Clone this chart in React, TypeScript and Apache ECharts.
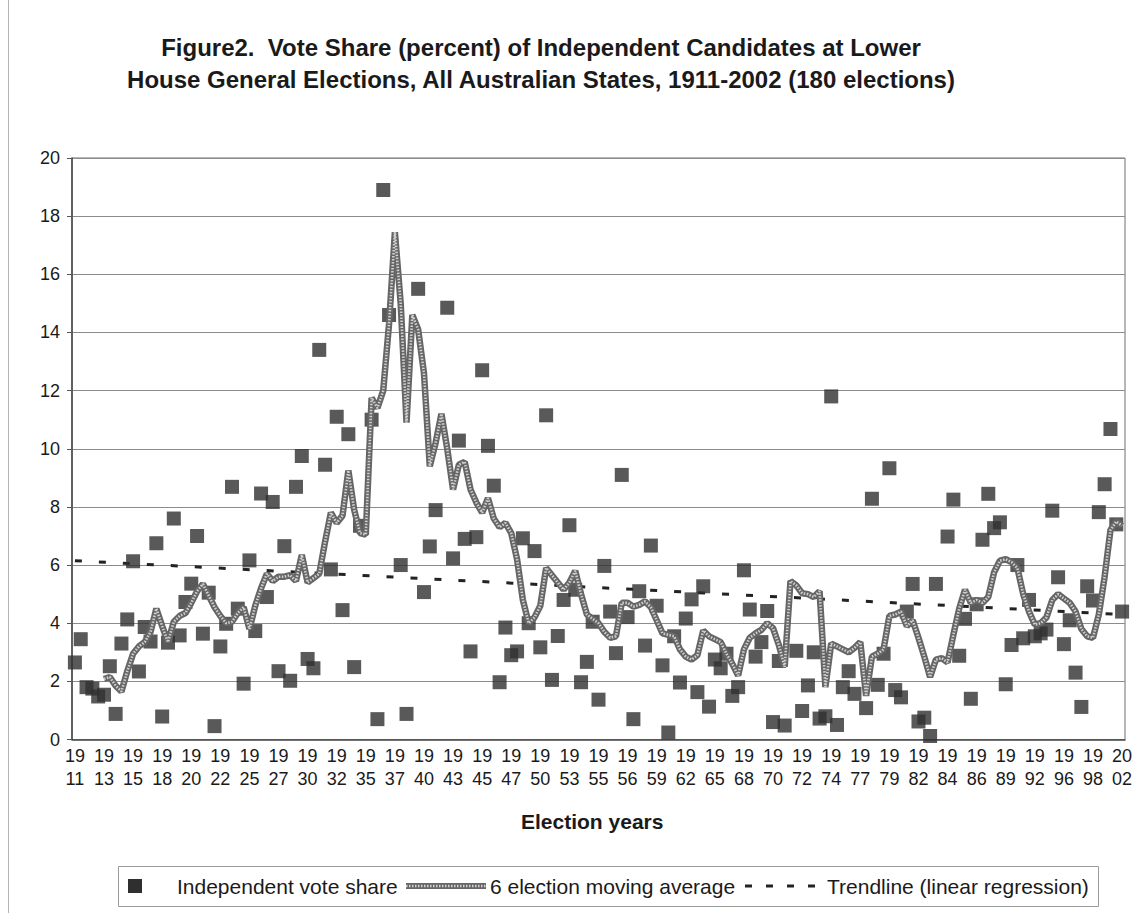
import React, { useEffect, useRef } from "react";
import * as echarts from "echarts";

// Tick labels (every 5th election)
const tickYears = [
  1911, 1913, 1915, 1918, 1920, 1922, 1925, 1927, 1930, 1932, 1935, 1937, 1940,
  1943, 1945, 1947, 1950, 1953, 1955, 1956, 1959, 1962, 1965, 1968, 1970, 1972,
  1974, 1977, 1979, 1982, 1984, 1986, 1989, 1992, 1996, 1998, 2002,
];

// Independent vote share per election (null = hidden under the moving average)
const voteShare: (number | null)[] = [
  2.65, 3.45, 1.8, 1.75, 1.48, 1.54, 2.52, 0.88, 3.3, 4.13,
  6.13, 2.34, 3.87, 3.37, 6.75, 0.79, 3.33, 7.6, 3.58, 4.73,
  5.36, 7.0, 3.64, 5.05, 0.46, 3.2, 3.98, 8.69, 4.5, 1.92,
  6.16, 3.73, 8.46, 4.9, 8.17, 2.35, 6.65, 2.02, 8.69, 9.75,
  2.77, 2.45, 13.4, 9.45, 5.85, 11.1, 4.45, 10.5, 2.49, 7.35,
  null, 11.0, 0.7, 18.9, 14.6, null, 6.0, 0.88, null, 15.5,
  5.07, 6.64, 7.89, null, 14.85, 6.23, 10.28, 6.9, 3.03, 6.96,
  12.7, 10.1, 8.73, 1.97, 3.85, 2.9, 3.03, 6.92, 4.0, 6.48,
  3.17, 11.15, 2.05, 3.56, 4.8, 7.37, 5.15, 1.97, 2.67, 4.05,
  1.37, 5.97, 4.4, 2.97, 9.1, 4.21, 0.7, 5.1, 3.23, 6.67,
  4.6, 2.55, 0.24, 3.55, 1.96, 4.16, 4.82, 1.63, 5.27, 1.13,
  2.75, 2.45, 2.95, 1.5, 1.8, 5.82, 4.47, 2.85, 3.35, 4.42,
  0.6, 2.7, 0.48, null, 3.05, 0.98, 1.86, 3.0, 0.72, 0.8,
  11.8, 0.5, 1.8, 2.35, 1.57, null, 1.08, 8.28, 1.88, 2.95,
  9.33, 1.7, 1.45, 4.4, 5.35, 0.62, 0.75, 0.12, 5.35, null,
  6.98, 8.25, 2.88, 4.15, 1.4, 4.65, 6.87, 8.45, 7.27, 7.47,
  1.9, 3.25, 6.0, 3.48, 4.8, 3.55, 3.65, 3.78, 7.87, 5.58,
  3.28, 4.1, 2.3, 1.12, 5.27, 4.78, 7.82, 8.78, 10.68, 7.4,
  4.4,
];

// 6 election moving average, as drawn
const movingAverage: (number | null)[] = [
  null, null, null, null, null, 2.08, 2.15, 1.85, 1.65, 2.35,
  2.95, 3.2, 3.35, 3.7, 4.5, 3.9, 3.35, 4.05, 4.25, 4.35,
  4.7, 5.1, 5.35, 4.95, 4.55, 4.25, 4.0, 4.05, 4.35, 4.55,
  3.8, 4.6, 5.2, 5.7, 5.45, 5.6, 5.6, 5.65, 5.45, 6.35,
  5.4, 5.55, 5.7, 6.8, 7.8, 7.45, 7.7, 9.25, 7.9, 7.1,
  7.05, 11.75, 11.4, 12.0, 14.3, 17.45, 15.0, 10.9, 14.6, 14.1,
  12.6, 9.4, 10.2, 11.2, 10.0, 8.6, 9.45, 9.55, 8.6, 8.15,
  7.8, 8.3, 7.6, 7.3, 7.45, 7.1, 6.2, 4.8, 4.0, 4.2,
  4.6, 5.9, 5.65, 5.4, 5.15, 5.4, 5.8, 5.0, 4.3, 4.15,
  4.0, 3.7, 3.5, 3.55, 4.7, 4.7, 4.57, 4.63, 4.75, 4.55,
  4.1, 3.65, 3.6, 3.55, 3.1, 2.85, 2.75, 2.9, 3.75, 3.55,
  3.45, 3.35, 2.95, 2.6, 2.2, 3.1, 3.5, 3.65, 3.77, 4.0,
  3.83, 3.25, 2.5, 5.45, 5.3, 5.03, 5.0, 4.9, 5.1, 1.8,
  3.3, 3.2, 3.1, 3.0, 3.15, 3.35, 1.5, 2.85, 2.95, 3.1,
  4.25, 4.3, 4.4, 3.9, 4.1, 3.5, 2.85, 2.15, 2.75, 2.8,
  2.65, 3.6, 4.5, 5.15, 4.7, 4.8, 4.7, 4.9, 5.75, 6.15,
  6.2, 6.1, 5.9, 5.0, 4.4, 3.95, 4.0, 4.2, 4.8, 5.0,
  4.85, 4.7, 4.4, 3.8, 3.55, 3.5, 4.3, 5.6, 7.2, 7.5,
  7.35,
];

// Linear regression trendline end values
const trendStart = 6.15;
const trendEnd = 4.3;

const seriesNames = [
  "Independent vote share",
  "6 election moving average",
  "Trendline (linear regression)",
];

const FONT = "'Liberation Sans', Arial, sans-serif";
const TEXT = "#1a1a1a";
const MA_OUTER = "#666666";
const MA_INNER = "#d0d0d0";

export default function App() {
  const ref = useRef<HTMLDivElement>(null);

  useEffect(() => {
    if (!ref.current) return;
    const chart = echarts.init(ref.current, null, { renderer: "svg" });
    const categories = voteShare.map((_, i) => String(i));
    const lastIdx = voteShare.length - 1;
    const legendY = 886;

    chart.setOption({
      animation: false,
      backgroundColor: "#ffffff",
      title: {
        text:
          "Figure2.  Vote Share (percent) of Independent Candidates at Lower\nHouse General Elections, All Australian States, 1911-2002 (180 elections)",
        left: 541,
        top: 31,
        padding: 0,
        textAlign: "center",
        textStyle: {
          fontFamily: FONT,
          fontSize: 24,
          fontWeight: "bold",
          color: TEXT,
          lineHeight: 32,
        },
      },
      grid: {
        left: 72,
        right: 15,
        top: 158,
        bottom: 173.5,
        show: true,
        borderColor: "#6f6f6f",
        borderWidth: 1,
        backgroundColor: "transparent",
      },
      xAxis: {
        type: "category",
        data: categories,
        boundaryGap: true,
        axisLine: { lineStyle: { color: "#444", width: 1.5 } },
        axisTick: { interval: 0, length: 5, lineStyle: { color: "#555" } },
        axisLabel: {
          interval: 4,
          margin: 5,
          fontFamily: FONT,
          fontSize: 18,
          lineHeight: 23,
          color: TEXT,
          formatter: (v: string) => {
            const i = Number(v);
            if (i % 5 !== 0) return "";
            const y = String(tickYears[i / 5]);
            return y.slice(0, 2) + "\n" + y.slice(2);
          },
        },
        splitLine: { show: false },
      },
      yAxis: {
        type: "value",
        min: 0,
        max: 20,
        interval: 2,
        axisLine: { show: true, lineStyle: { color: "#444", width: 1.5 } },
        axisTick: { show: true, length: 5, lineStyle: { color: "#555" } },
        axisLabel: {
          margin: 12,
          fontFamily: FONT,
          fontSize: 18,
          color: TEXT,
        },
        splitLine: { lineStyle: { color: "#8c8c8c", width: 1 } },
      },
      graphic: [
        // left frame edge of the chart area
        {
          type: "line",
          shape: { x1: 8.5, y1: 0, x2: 8.5, y2: 913 },
          style: { stroke: "#b5b5b5", lineWidth: 1 },
          silent: true,
        },
        // axis title
        {
          type: "text",
          left: 521,
          top: 811,
          style: {
            text: "Election years",
            font: `bold 21px ${FONT}`,
            fill: TEXT,
          },
          silent: true,
        },
        // legend box
        {
          type: "rect",
          shape: { x: 118.5, y: 866.5, width: 980, height: 40 },
          style: { fill: "#fff", stroke: "#9a9a9a", lineWidth: 1 },
          silent: true,
          z: 10,
        },
        {
          type: "rect",
          shape: { x: 128, y: legendY - 7, width: 14, height: 14 },
          style: { fill: "#2f2f2f" },
          silent: true,
          z: 11,
        },
        {
          type: "text",
          x: 177,
          y: legendY,
          style: {
            text: seriesNames[0],
            font: `21px ${FONT}`,
            fill: TEXT,
            verticalAlign: "middle",
          },
          silent: true,
          z: 11,
        },
        {
          type: "line",
          shape: { x1: 406, y1: legendY, x2: 486, y2: legendY },
          style: { stroke: MA_OUTER, lineWidth: 6 },
          silent: true,
          z: 11,
        },
        {
          type: "line",
          shape: { x1: 406, y1: legendY, x2: 486, y2: legendY },
          style: { stroke: MA_INNER, lineWidth: 2.6, lineDash: [1.5, 1.5] },
          silent: true,
          z: 12,
        },
        {
          type: "text",
          x: 490,
          y: legendY,
          style: {
            text: seriesNames[1],
            font: `21px ${FONT}`,
            fill: TEXT,
            verticalAlign: "middle",
          },
          silent: true,
          z: 11,
        },
        {
          type: "line",
          shape: { x1: 745, y1: legendY, x2: 823, y2: legendY },
          style: { stroke: "#222", lineWidth: 3, lineDash: [7, 14] },
          silent: true,
          z: 11,
        },
        {
          type: "text",
          x: 827,
          y: legendY,
          style: {
            text: seriesNames[2],
            font: `21px ${FONT}`,
            fill: TEXT,
            verticalAlign: "middle",
          },
          silent: true,
          z: 11,
        },
      ],
      series: [
        {
          name: seriesNames[2],
          type: "line",
          data: [
            [0, trendStart],
            [lastIdx, trendEnd],
          ],
          symbol: "none",
          lineStyle: { color: "#222", width: 3, type: [7, 17] },
          z: 1,
        },
        {
          name: seriesNames[0],
          type: "scatter",
          data: voteShare,
          symbol: "rect",
          symbolSize: 14,
          itemStyle: { color: "#2f2f2f" },
          z: 2,
        },
        {
          name: seriesNames[1],
          type: "line",
          data: movingAverage,
          symbol: "none",
          lineStyle: { color: MA_OUTER, width: 6.5 },
          z: 3,
        },
        {
          name: "ma-texture",
          type: "line",
          data: movingAverage,
          symbol: "none",
          silent: true,
          lineStyle: { color: MA_INNER, width: 2.6, type: [1.5, 1.5] },
          z: 4,
        },
      ],
    });

    return () => chart.dispose();
  }, []);

  return (
    <div
      ref={ref}
      style={{
        position: "fixed",
        left: 0,
        top: 0,
        width: 1140,
        height: 913,
        background: "#fff",
      }}
    />
  );
}
